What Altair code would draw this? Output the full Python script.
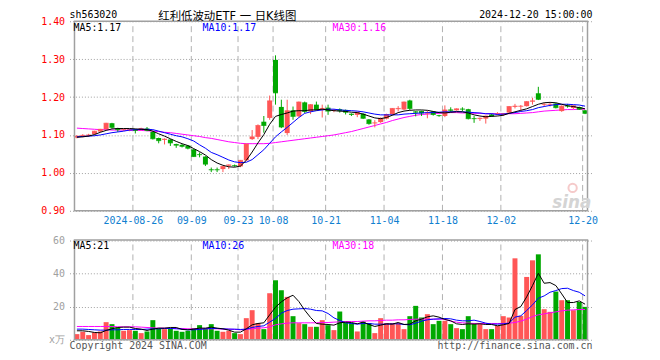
import altair as alt
import pandas as pd

# ---------------- data ----------------
dates = (
    ["2024-08-%02d" % d for d in [12, 13, 14, 15, 16, 19, 20, 21, 22, 23, 26, 27, 28, 29, 30]]
    + ["2024-09-%02d" % d for d in [2, 3, 4, 5, 6, 9, 10, 11, 12, 13, 18, 19, 20, 23, 24, 25, 26, 27, 30]]
    + ["2024-10-%02d" % d for d in [8, 9, 10, 11, 14, 15, 16, 17, 18, 21, 22, 23, 24, 25, 28, 29, 30, 31]]
    + ["2024-11-%02d" % d for d in [1, 4, 5, 6, 7, 8, 11, 12, 13, 14, 15, 18, 19, 20, 21, 22, 25, 26, 27, 28, 29]]
    + ["2024-12-%02d" % d for d in [2, 3, 4, 5, 6, 9, 10, 11, 12, 13, 16, 17, 18, 19, 20]]
)

open_ = [1.093, 1.097, 1.098, 1.102, 1.109, 1.115, 1.131, 1.118, 1.113, 1.113,
         1.114, 1.113, 1.117, 1.108, 1.092, 1.087, 1.088, 1.076, 1.074, 1.072,
         1.062, 1.049, 1.043, 1.009, 1.009, 1.010, 1.019, 1.020, 1.017, 1.033,
         1.089, 1.095, 1.135, 1.145, 1.298, 1.174, 1.105, 1.165, 1.149, 1.186,
         1.162, 1.180, 1.168, 1.172, 1.164, 1.168, 1.166, 1.156, 1.153, 1.156,
         1.141, 1.131, 1.134, 1.143, 1.154, 1.168, 1.167, 1.191, 1.162, 1.163,
         1.157, 1.162, 1.152, 1.150, 1.167, 1.165, 1.169, 1.168, 1.144, 1.142,
         1.143, 1.154, 1.155, 1.153, 1.159, 1.174, 1.175, 1.176, 1.188, 1.210,
         1.180, 1.180, 1.183, 1.163, 1.177, 1.171, 1.174, 1.165]
high = [1.099, 1.102, 1.103, 1.111, 1.116, 1.132, 1.132, 1.119, 1.116, 1.116,
        1.116, 1.119, 1.121, 1.110, 1.093, 1.091, 1.089, 1.077, 1.076, 1.073,
        1.063, 1.054, 1.044, 1.014, 1.014, 1.018, 1.022, 1.022, 1.034, 1.077,
        1.113, 1.128, 1.150, 1.204, 1.310, 1.193, 1.193, 1.175, 1.188, 1.188,
        1.181, 1.188, 1.180, 1.180, 1.168, 1.170, 1.167, 1.157, 1.161, 1.157,
        1.142, 1.139, 1.146, 1.156, 1.171, 1.176, 1.188, 1.193, 1.163, 1.164,
        1.164, 1.163, 1.153, 1.178, 1.173, 1.170, 1.173, 1.169, 1.150, 1.146,
        1.151, 1.156, 1.160, 1.158, 1.176, 1.182, 1.179, 1.189, 1.198, 1.227,
        1.184, 1.184, 1.184, 1.178, 1.182, 1.178, 1.175, 1.166]
low = [1.091, 1.094, 1.095, 1.101, 1.107, 1.114, 1.117, 1.108, 1.111, 1.110,
       1.104, 1.112, 1.110, 1.088, 1.078, 1.075, 1.071, 1.066, 1.067, 1.062,
       1.042, 1.041, 1.018, 1.002, 1.002, 1.002, 1.010, 1.016, 1.015, 1.032,
       1.087, 1.089, 1.106, 1.140, 1.180, 1.118, 1.100, 1.140, 1.148, 1.158,
       1.155, 1.165, 1.146, 1.153, 1.160, 1.159, 1.154, 1.150, 1.147, 1.142,
       1.127, 1.120, 1.132, 1.141, 1.153, 1.162, 1.166, 1.166, 1.149, 1.150,
       1.144, 1.151, 1.148, 1.147, 1.160, 1.164, 1.163, 1.141, 1.132, 1.137,
       1.130, 1.148, 1.152, 1.150, 1.157, 1.170, 1.165, 1.175, 1.180, 1.192,
       1.175, 1.175, 1.170, 1.161, 1.172, 1.168, 1.166, 1.155]
close = [1.097, 1.099, 1.100, 1.110, 1.115, 1.131, 1.120, 1.114, 1.114, 1.114,
         1.112, 1.117, 1.112, 1.090, 1.085, 1.089, 1.079, 1.073, 1.070, 1.065,
         1.043, 1.048, 1.023, 1.008, 1.008, 1.017, 1.021, 1.019, 1.033, 1.076,
         1.095, 1.125, 1.125, 1.190, 1.211, 1.121, 1.164, 1.149, 1.187, 1.162,
         1.180, 1.167, 1.170, 1.163, 1.166, 1.164, 1.160, 1.154, 1.160, 1.144,
         1.130, 1.132, 1.144, 1.154, 1.170, 1.170, 1.187, 1.170, 1.160, 1.158,
         1.158, 1.154, 1.151, 1.166, 1.165, 1.169, 1.168, 1.143, 1.143, 1.144,
         1.150, 1.150, 1.156, 1.156, 1.175, 1.176, 1.176, 1.188, 1.190, 1.194,
         1.181, 1.181, 1.172, 1.176, 1.176, 1.177, 1.168, 1.157]

ma5 = [1.094, 1.095, 1.097, 1.101, 1.107, 1.112, 1.116, 1.117, 1.117, 1.117,
       1.116, 1.115, 1.114, 1.110, 1.103, 1.097, 1.090, 1.083, 1.077, 1.072,
       1.064, 1.056, 1.047, 1.035, 1.026, 1.020, 1.016, 1.015, 1.018, 1.033,
       1.055, 1.079, 1.101, 1.128, 1.149, 1.154, 1.158, 1.163, 1.164, 1.164,
       1.166, 1.166, 1.168, 1.166, 1.164, 1.163, 1.162, 1.160, 1.159, 1.155,
       1.150, 1.145, 1.143, 1.146, 1.152, 1.159, 1.163, 1.165, 1.166, 1.166,
       1.165, 1.162, 1.159, 1.158, 1.160, 1.161, 1.161, 1.158, 1.153, 1.150,
       1.148, 1.149, 1.150, 1.152, 1.157, 1.161, 1.165, 1.169, 1.175, 1.181,
       1.185, 1.186, 1.185, 1.181, 1.177, 1.175, 1.172, 1.169]
ma10 = [1.095, 1.096, 1.097, 1.098, 1.100, 1.103, 1.106, 1.108, 1.110, 1.113,
        1.114, 1.115, 1.115, 1.114, 1.110, 1.106, 1.102, 1.098, 1.095, 1.090,
        1.084, 1.074, 1.065, 1.054, 1.048, 1.041, 1.034, 1.029, 1.027, 1.028,
        1.035, 1.048, 1.061, 1.078, 1.095, 1.108, 1.120, 1.133, 1.146, 1.157,
        1.161, 1.164, 1.166, 1.168, 1.168, 1.166, 1.165, 1.164, 1.163, 1.161,
        1.158, 1.155, 1.153, 1.153, 1.153, 1.153, 1.155, 1.156, 1.157, 1.158,
        1.159, 1.159, 1.160, 1.161, 1.161, 1.162, 1.161, 1.160, 1.159, 1.158,
        1.156, 1.156, 1.154, 1.155, 1.157, 1.159, 1.162, 1.164, 1.167, 1.172,
        1.175, 1.178, 1.180, 1.181, 1.181, 1.180, 1.179, 1.176]
ma30 = [1.118, 1.117, 1.116, 1.115, 1.114, 1.114, 1.113, 1.113, 1.113, 1.112,
        1.112, 1.112, 1.111, 1.110, 1.109, 1.107, 1.106, 1.104, 1.102, 1.100,
        1.098, 1.096, 1.093, 1.091, 1.088, 1.085, 1.082, 1.080, 1.078, 1.077,
        1.077, 1.077, 1.077, 1.078, 1.080, 1.082, 1.084, 1.086, 1.088, 1.090,
        1.092, 1.094, 1.096, 1.098, 1.100, 1.103, 1.106, 1.109, 1.113, 1.117,
        1.121, 1.125, 1.129, 1.133, 1.138, 1.142, 1.146, 1.149, 1.152, 1.154,
        1.155, 1.156, 1.157, 1.158, 1.159, 1.159, 1.158, 1.158, 1.157, 1.157,
        1.156, 1.156, 1.156, 1.156, 1.156, 1.156, 1.157, 1.158, 1.159, 1.161,
        1.163, 1.164, 1.165, 1.166, 1.167, 1.167, 1.168, 1.168]

volume = [3.4, 4.8, 2.8, 4.4, 5.0, 10.6, 9.4, 7.4, 5.4, 5.8,
          5.4, 4.0, 5.0, 11.8, 7.0, 6.4, 6.8, 5.4, 4.8, 5.4,
          7.0, 8.8, 6.8, 9.4, 5.4, 4.8, 5.4, 4.0, 3.4, 13.0,
          17.8, 10.0, 6.4, 28.0, 35.8, 29.8, 25.8, 14.2, 10.0, 9.4,
          7.8, 7.8, 11.8, 8.8, 5.8, 17.0, 10.4, 10.0, 5.0, 11.0,
          10.0, 4.0, 13.0, 10.0, 10.0, 10.0, 6.4, 14.2, 20.4, 13.4,
          15.4, 9.4, 11.4, 11.4, 9.4, 7.0, 6.4, 14.2, 9.4, 9.4,
          6.4, 6.4, 8.4, 14.2, 13.4, 49.0, 14.4, 37.8, 47.8, 51.4,
          18.4, 16.8, 29.0, 23.8, 23.8, 17.8, 22.8, 19.8]
vma5 = [5.4, 5.4, 5.0, 4.4, 4.2, 5.6, 6.6, 7.4, 7.6, 7.6,
        6.8, 6.4, 5.6, 6.4, 7.0, 7.0, 7.4, 7.4, 6.2, 6.0,
        6.4, 7.0, 7.0, 7.6, 7.0, 6.6, 5.8, 4.6, 4.6, 6.6,
        9.0, 9.8, 10.2, 15.0, 19.6, 22.8, 25.2, 26.8, 23.0, 17.8,
        13.4, 9.8, 9.4, 9.2, 8.8, 10.2, 10.6, 10.4, 9.6, 10.6,
        9.2, 8.0, 8.8, 9.6, 9.4, 10.4, 9.2, 9.4, 11.4, 12.4,
        13.8, 14.4, 13.6, 12.2, 11.4, 9.6, 9.2, 9.6, 9.4, 9.6,
        9.2, 9.2, 8.4, 9.0, 9.8, 18.2, 20.0, 25.8, 32.6, 40.0,
        34.0, 34.4, 32.6, 27.6, 22.4, 22.4, 23.4, 21.4]
vma10 = [6.4, 6.4, 6.2, 6.0, 5.8, 5.8, 6.0, 6.0, 6.2, 6.2,
         6.2, 6.2, 6.4, 6.6, 6.6, 6.8, 6.8, 6.6, 6.4, 6.0,
         6.0, 6.2, 6.6, 6.8, 6.8, 6.6, 6.4, 6.4, 6.2, 6.4,
         7.4, 8.0, 8.4, 10.6, 12.8, 16.0, 17.6, 18.4, 18.6, 18.8,
         18.4, 17.6, 17.4, 15.8, 13.2, 11.6, 10.2, 9.8, 9.4, 9.8,
         9.8, 9.4, 9.4, 9.4, 9.6, 9.6, 9.2, 9.0, 10.0, 11.2,
         12.0, 12.4, 12.6, 12.8, 12.6, 11.8, 11.4, 11.4, 11.8, 11.0,
         10.0, 9.4, 9.4, 9.6, 10.0, 13.6, 14.4, 17.6, 21.0, 25.0,
         26.4, 28.6, 29.6, 30.8, 31.0, 29.6, 28.6, 26.4]
vma30 = [8.0, 8.0, 8.0, 8.0, 8.0, 8.0, 8.0, 7.8, 7.8, 7.8,
         7.8, 7.6, 7.4, 7.2, 7.0, 7.0, 6.8, 6.8, 6.8, 6.6,
         6.6, 6.6, 6.6, 6.6, 6.6, 6.4, 6.4, 6.2, 6.0, 6.2,
         6.6, 7.0, 7.2, 7.8, 9.0, 9.6, 10.0, 10.2, 10.2, 10.2,
         10.2, 10.2, 10.4, 10.4, 10.6, 10.8, 11.0, 11.0, 11.0, 11.2,
         11.4, 11.4, 11.6, 11.8, 11.8, 12.0, 12.0, 12.2, 12.4, 12.4,
         12.4, 12.4, 12.4, 12.4, 11.2, 10.6, 10.2, 10.0, 9.8, 9.8,
         9.8, 9.8, 9.8, 9.8, 10.0, 10.4, 11.2, 12.4, 14.0, 15.0,
         15.6, 16.2, 16.8, 17.4, 17.8, 18.0, 18.2, 18.2]

tick_idx = [10, 20, 28, 34, 43, 53, 63, 73, 87]
tick_labels = ["2024-08-26", "09-09", "09-23", "10-08", "10-21", "11-04", "11-18", "12-02", "12-20"]
price_ticks = [0.9, 1.0, 1.1, 1.2, 1.3, 1.4]
vol_ticks = [0, 20, 40, 60]

# ---------------- build ----------------
N = len(dates)
df = pd.DataFrame({
    "i": list(range(N)), "date": dates, "open": open_, "high": high, "low": low,
    "close": close, "volume": volume, "ma5": ma5, "ma10": ma10, "ma30": ma30,
    "vma5": vma5, "vma10": vma10, "vma30": vma30,
})
df["dir"] = ["up" if c >= o else "down" for o, c in zip(open_, close)]

RED, GREEN = "#ff5656", "#00a800"
MONO = "DejaVu Sans Mono"
OFF = 2.5 / 6.0
W, H = 527, 321
P_H = 191
P_RANGE = [P_H, 0]
V_RANGE = [H, 220.5]

grid_pos = [t - OFF for t in tick_idx]
lab_expr = ""
for t, lab in zip(tick_idx, tick_labels):
    lab_expr += "round(datum.value + %f) == %d ? '%s' : " % (OFF, t, lab)
lab_expr += "''"

xscale = alt.Scale(domain=[-OFF, N - 1 + OFF], nice=False, zero=False)
xaxis = alt.Axis(values=grid_pos, labelExpr=lab_expr, grid=False, ticks=False, domain=False,
                 offset=-(H - P_H), labelColor="#1080d0", labelFont=MONO, labelFontSize=10,
                 labelPadding=5, labelFlush=False, labelOverlap=False, title=None)
X = alt.X("i:Q", scale=xscale, axis=xaxis)

pscale = alt.Scale(domain=[0.9, 1.4], range=P_RANGE, nice=False, zero=False)
paxis = alt.Axis(values=price_ticks, format=".2f", labelColor="#ff0000", labelFont=MONO,
                 labelFontSize=10, ticks=False, domain=False, grid=True, gridColor="#a0a0a0",
                 gridDash=[1, 2], labelPadding=5, title=None, orient="left")
vscale = alt.Scale(domain=[0, 60], range=V_RANGE, nice=False, zero=True)
vaxis = alt.Axis(values=vol_ticks, labelExpr="datum.value == 0 ? 'x万' : datum.label",
                 labelColor="#a0a0a0", labelFont=MONO, labelFontSize=10, ticks=False,
                 domain=False, grid=True, gridColor="#a0a0a0", gridDash=[1, 2], labelPadding=5,
                 title=None, orient="left")


def PY(f):
    return alt.Y(f + ":Q", scale=pscale, axis=paxis)


def PY2(f):
    return alt.Y2(f + ":Q")


def VY(f):
    return alt.Y(f + ":Q", scale=vscale, axis=vaxis)


color = alt.Color("dir:N", scale=alt.Scale(domain=["up", "down"], range=[RED, GREEN]), legend=None)

base = alt.Chart(df)

frame_p = pd.DataFrame({"x0": [-OFF], "x1": [N - 1 + OFF], "y0": [0.9], "y1": [1.4]})
frame_v = pd.DataFrame({"x0": [-OFF], "x1": [N - 1 + OFF], "y0": [0.0], "y1": [60.0]})
vgrid_p = pd.DataFrame({"g": grid_pos, "y0": 0.9, "y1": 1.4})
vgrid_v = pd.DataFrame({"g": grid_pos, "y0": 0.0, "y1": 60.0})

Xg = alt.X("g:Q", scale=xscale, axis=xaxis)
Xf = alt.X("x0:Q", scale=xscale, axis=xaxis)

one = alt.Chart(pd.DataFrame({"a": [0]}))


def label(txt, x, y, col, size=10, font=MONO, align="left", weight="normal", style="normal",
          baseline="alphabetic"):
    return one.mark_text(text=txt, align=align, baseline=baseline, font=font, fontSize=size,
                         color=col, fontWeight=weight, fontStyle=style).encode(
        x=alt.value(x), y=alt.value(y))


price_layer = alt.layer(
    alt.Chart(vgrid_p).mark_rule(color="#b0b0b0", strokeWidth=1, strokeDash=[6, 4]).encode(
        x=Xg, y=PY("y0"), y2=PY2("y1")),
    base.mark_line(color="#ff00ff", strokeWidth=1).encode(x=X, y=PY("ma30")),
    base.mark_rule(strokeWidth=1).encode(x=X, y=PY("low"), y2=PY2("high"), color=color),
    base.mark_bar(size=5).encode(x=X, y=PY("open"), y2=PY2("close"), color=color),
    base.mark_tick(size=5, thickness=1, orient="horizontal").encode(x=X, y=PY("close"), color=color),
    base.mark_line(color="#0000ff", strokeWidth=1).encode(x=X, y=PY("ma10")),
    base.mark_line(color="#000000", strokeWidth=1).encode(x=X, y=PY("ma5")),
    alt.Chart(frame_p).mark_rect(filled=False, stroke="#a0a0a0", strokeWidth=1.5).encode(
        x=Xf, x2=alt.X2("x1:Q"), y=PY("y0"), y2=PY2("y1")),
)

vol_layer = alt.layer(
    alt.Chart(vgrid_v).mark_rule(color="#b0b0b0", strokeWidth=1, strokeDash=[6, 4]).encode(
        x=Xg, y=VY("y0"), y2=alt.Y2("y1:Q")),
    base.mark_bar(size=5).encode(x=X, y=VY("volume"), color=color),
    base.mark_line(color="#ff00ff", strokeWidth=1).encode(x=X, y=VY("vma30")),
    base.mark_line(color="#0000ff", strokeWidth=1).encode(x=X, y=VY("vma10")),
    base.mark_line(color="#000000", strokeWidth=1).encode(x=X, y=VY("vma5")),
    alt.Chart(frame_v).mark_rect(filled=False, stroke="#a0a0a0", strokeWidth=1.5).encode(
        x=Xf, x2=alt.X2("x1:Q"), y=VY("y0"), y2=alt.Y2("y1:Q")),
)

texts = alt.layer(
    label("sh563020", 0, -3, "#000000", size=10),
    label("红利低波动ETF 一 日K线图", 159, -1.5, "#000000", size=11.5,
          font="DejaVu Sans, Noto Sans CJK SC", align="center"),
    label("2024-12-20 15:00:00", W, -3, "#000000", size=10, align="right"),
    label("MA5:1.17", 4, 10, "#000000"),
    label("MA10:1.17", 134, 10, "#0000ff"),
    label("MA30:1.16", 265, 10, "#ff00ff"),
    label("MA5:21", 4, 230, "#000000"),
    label("MA10:26", 134, 230, "#0000ff"),
    label("MA30:18", 265, 230, "#ff00ff"),
    label("Copyright 2024 SINA.COM", 0, 330, "#555555"),
    label("http://finance.sina.com.cn", W, 330, "#555555", align="right"),
    label("sina", W - 1, 188, "#d4d4d4", size=17, font="DejaVu Sans", align="right",
          weight="bold", style="italic"),
    one.mark_point(shape="circle", size=70, filled=False, color="#f2b4b4", strokeWidth=2).encode(
        x=alt.value(W - 20), y=alt.value(168)),
)

chart = alt.layer(price_layer, vol_layer, texts).resolve_scale(y="independent").properties(
    width=W, height=H,
    autosize=alt.AutoSizeParams(type="none"),
    padding={"left": 62, "top": 12, "right": 60, "bottom": 14},
).configure_view(strokeWidth=0)

chart.save("out.html", embed_options={"renderer": "svg", "actions": False})
